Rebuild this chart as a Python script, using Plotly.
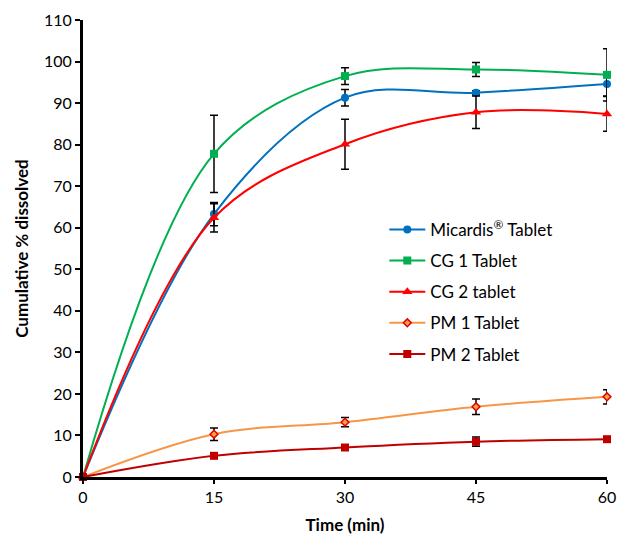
import plotly.graph_objects as go

# Sampling times (min)
time_min = [0, 15, 30, 45, 60]

# Cumulative % dissolved (mean) and SD for each formulation
micardis = [0, 63.3, 91.3, 92.5, 94.6]
micardis_sd = [0, 2.8, 2.0, 0.5, 2.9]

cg1 = [0, 77.8, 96.5, 98.1, 96.8]
cg1_sd = [0, 9.3, 2.0, 1.7, 6.3]

cg2 = [0, 62.4, 80.1, 87.8, 87.4]
cg2_sd = [0, 3.4, 6.0, 3.9, 4.2]

pm1 = [0, 10.3, 13.2, 16.9, 19.3]
pm1_sd = [0, 1.5, 1.1, 1.85, 1.7]

pm2 = [0, 5.1, 7.1, 8.5, 9.1]
pm2_sd = [0, 0.4, 0.5, 1.1, 0.3]

series = [
    ("Micardis<sup>®</sup> Tablet", micardis, micardis_sd, "#0070C0",
     dict(symbol="circle", size=8, color="#0070C0")),
    ("CG 1 Tablet", cg1, cg1_sd, "#00B050",
     dict(symbol="square", size=8, color="#00B050")),
    ("CG 2 tablet", cg2, cg2_sd, "#FF0000",
     dict(symbol="triangle-up", size=9, color="#FF0000")),
    ("PM 1 Tablet", pm1, pm1_sd, "#F79646",
     dict(symbol="diamond", size=6, color="#F9A040",
          line=dict(color="#E00000", width=1.5))),
    ("PM 2 Tablet", pm2, pm2_sd, "#C00000",
     dict(symbol="square", size=8, color="#C00000")),
]

fig = go.Figure()
for i, (name, y, sd, color, marker) in enumerate(series):
    fig.add_trace(go.Scatter(
        x=time_min, y=y, name=name, mode="lines+markers",
        legendgroup=f"g{i}",
        line=dict(color=color, width=2, shape="spline", smoothing=1),
        marker=marker,
        error_y=dict(type="data", array=sd, visible=True,
                     color="black", thickness=1.5, width=4),
        cliponaxis=False,
    ))

font_family = "Lato, 'Open Sans', sans-serif"

fig.update_layout(
    width=618, height=538,
    margin=dict(l=83, r=11, t=20, b=61),
    paper_bgcolor="white", plot_bgcolor="white",
    font=dict(family=font_family, size=16, color="black"),
    showlegend=True,
    legend=dict(
        x=0.575, y=0.58, xanchor="left", yanchor="top",
        font=dict(size=17, color="black"),
        bgcolor="rgba(0,0,0,0)",
        itemwidth=36,
        tracegroupgap=6,
    ),
    xaxis=dict(
        range=[0, 60], tickvals=[0, 15, 30, 45, 60],
        showgrid=False, zeroline=False,
        showline=True, linecolor="black", linewidth=3,
        ticks="outside", ticklen=4, tickwidth=1.5, tickcolor="black",
        tickfont=dict(size=16),
        automargin=False,
        title=dict(text="<b>Time (min)</b>", font=dict(size=17), standoff=14),
    ),
    yaxis=dict(
        range=[0, 110], dtick=10,
        showgrid=False, zeroline=False,
        showline=True, linecolor="black", linewidth=3,
        ticks="outside", ticklen=5, tickwidth=1.5, tickcolor="black",
        tickfont=dict(size=16),
        automargin=False,
        title=dict(text="<b>Cumulative % dissolved</b>", font=dict(size=17), standoff=12),
    ),
)

fig.write_html("out.html")
